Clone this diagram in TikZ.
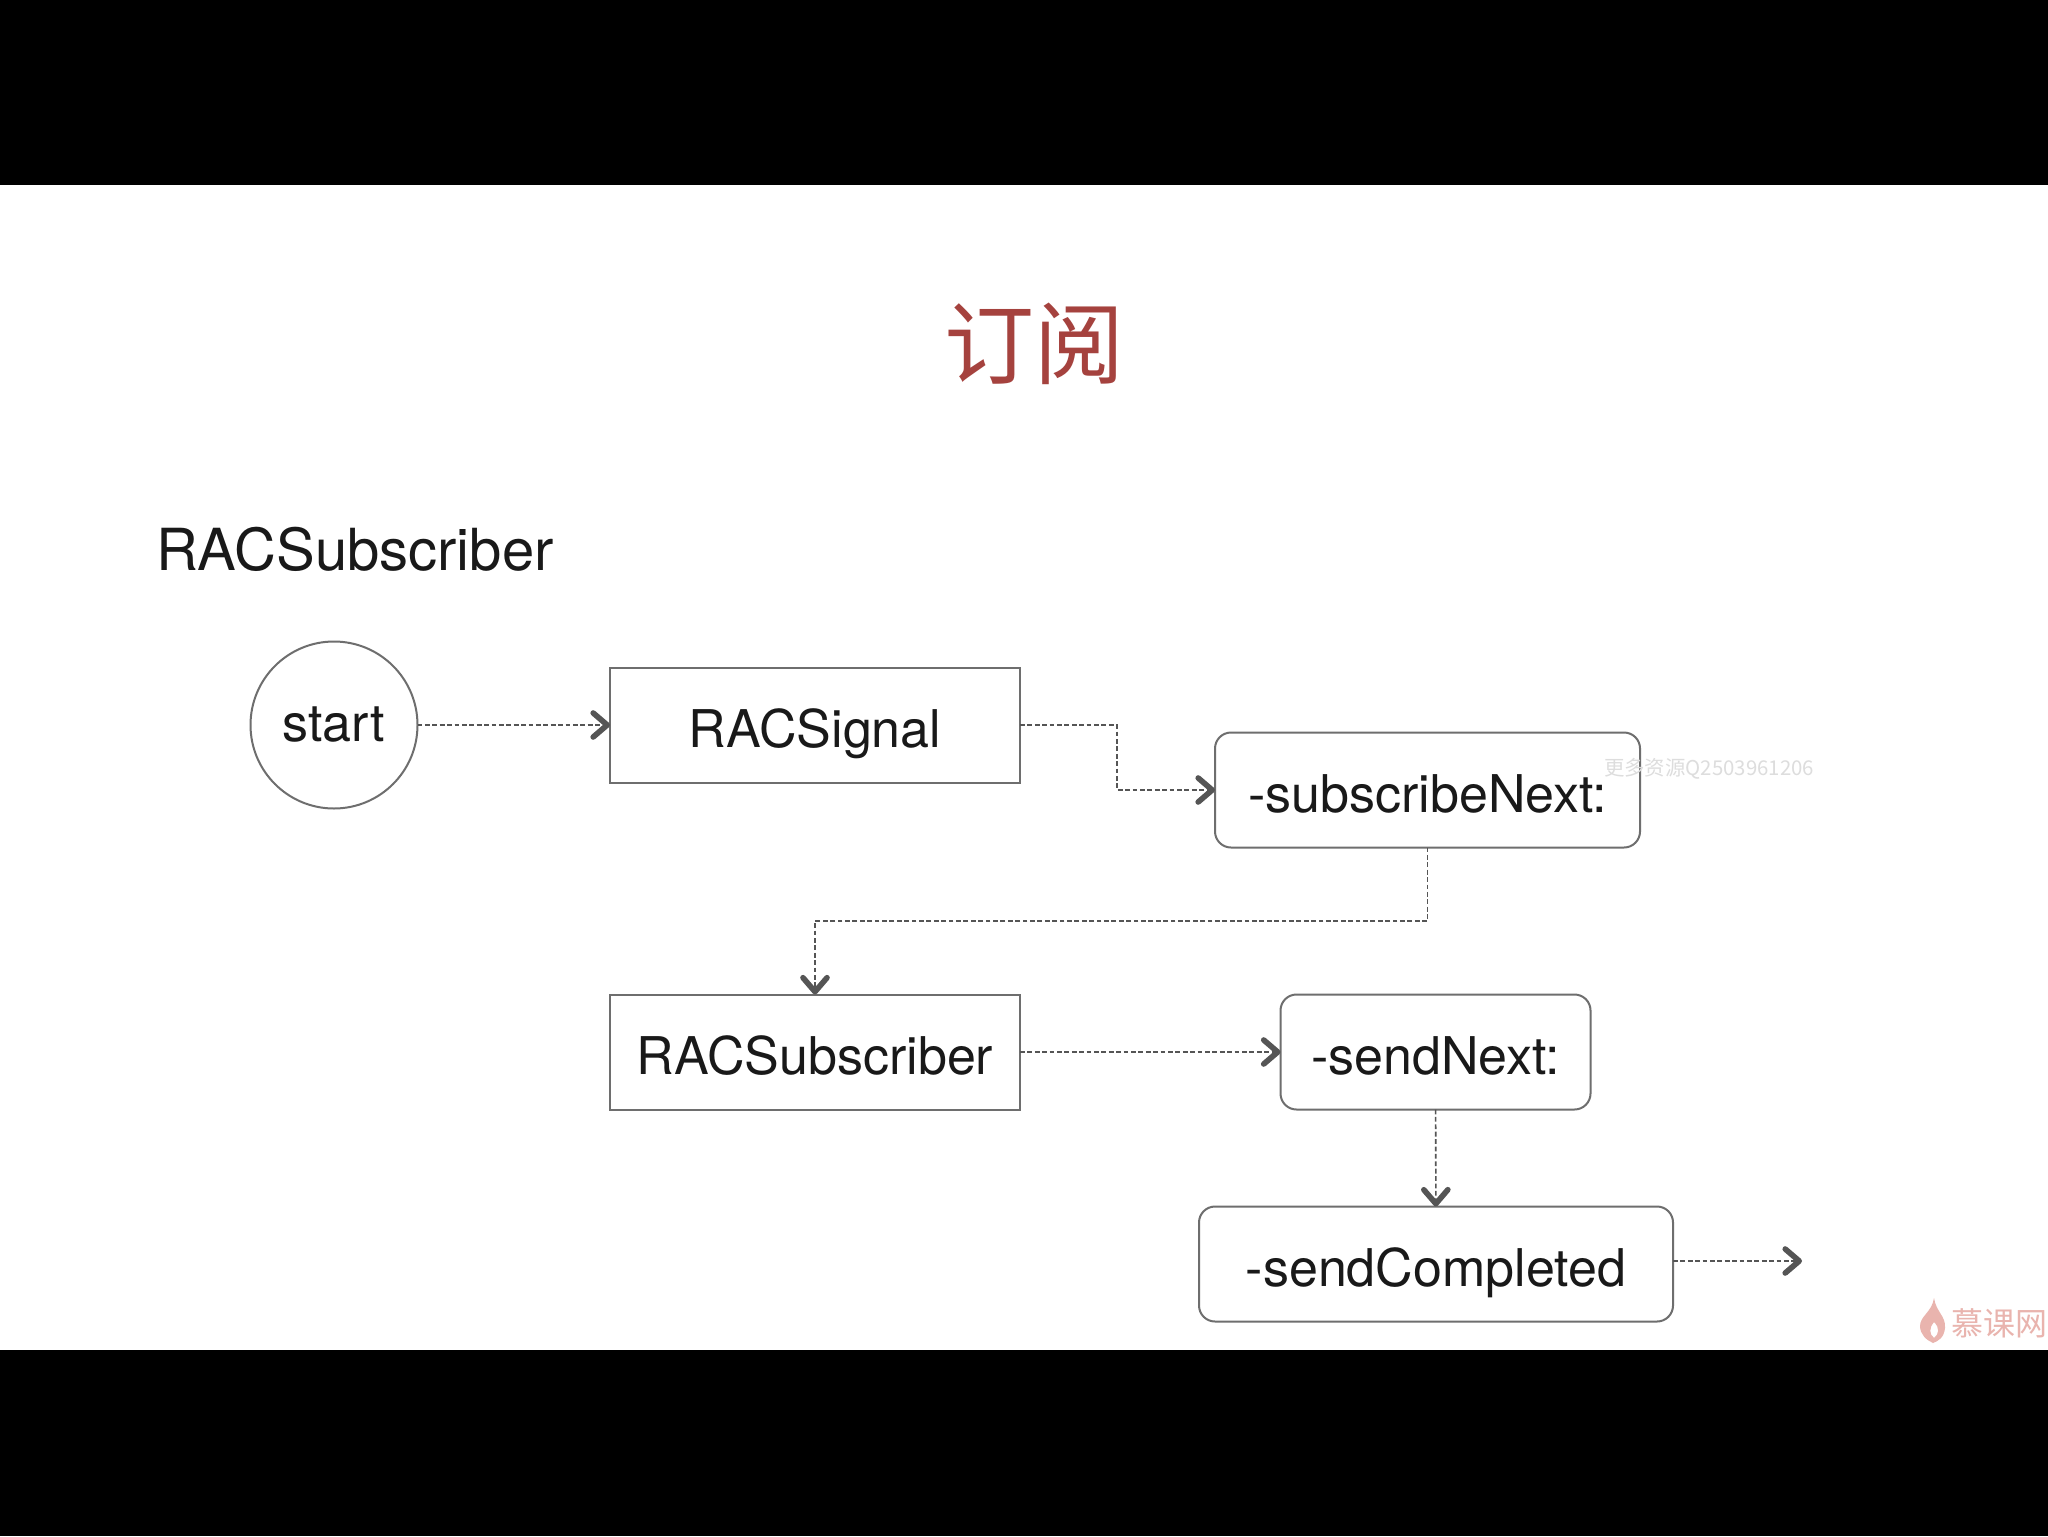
\documentclass[tikz,border=0pt]{standalone}
\usepackage{fontspec}
\setmainfont{TeX Gyre Heros}
\newfontfamily\cjk{Noto Sans CJK SC}
\usetikzlibrary{arrows.meta}
\definecolor{linegray}{HTML}{6E6E6E}
\definecolor{flowgray}{HTML}{555555}
\definecolor{titlered}{HTML}{A5423E}
\definecolor{markred}{HTML}{E9B4AE}
\definecolor{markgray}{HTML}{DDDDDD}

\begin{document}
\begin{tikzpicture}
  [x=0.5pt,y=-0.5pt,
    every node/.style={inner sep=0pt,outer sep=0pt,text=black!90,font=\fontsize{26}{30}\selectfont},
    classbox/.style={draw=linegray,line width=1pt,minimum width=205pt,minimum height=57.5pt,text height=22.6pt,text depth=0pt},
    methodbox/.style={draw=linegray,line width=1pt,rounded corners=8pt,minimum height=57.5pt,text height=22.6pt,text depth=0pt},
    flow/.style={draw=flowgray,line width=0.8pt,dash pattern=on 2.4pt off 1.3pt,
      -{Straight Barb[length=7pt,width=12pt,line width=2.8pt,round]}},
  ]
  \useasboundingbox (0,0) rectangle (2048,1536);
  \fill[white] (0,0) rectangle (2048,1536);
  \fill[black] (0,0) rectangle (2048,185);
  \fill[black] (0,1350) rectangle (2048,1536);

  \node[text=titlered,font=\cjk\fontsize{45}{48}\selectfont] (title) at (1034,344) {订阅};
  \node[anchor=west,font=\fontsize{29}{33}\selectfont] (heading) at (156,549) {RACSubscriber};

  \node[draw=linegray,line width=1pt,circle,minimum size=83.5pt] (start) at (334,725) {start};
  \node[classbox] (racsignal) at (815,725) {RACSignal};
  \node[methodbox,minimum width=212.5pt] (subnext) at (1427.5,790) {-subscribeNext:};
  \node[classbox] (racsub) at (815,1052) {RACSubscriber};
  \node[methodbox,minimum width=155pt] (sendnext) at (1435.5,1052) {-sendNext:};
  \node[methodbox,minimum width=237pt] (sendcomp) at (1436,1264) {-sendCompleted};

  \coordinate (kneea) at (1117,757);
  \coordinate (kneeb) at (1000,921);
  \coordinate (out) at (1802,1261);

  \draw[flow] (start) -- (racsignal);
  \draw[flow] (racsignal.east) -| (kneea) |- (subnext.west);
  \draw[flow] (subnext.south) |- (kneeb) -| (racsub.north);
  \draw[flow] (racsub) -- (sendnext);
  \draw[flow] (sendnext) -- (sendcomp);
  \draw[flow] (sendcomp.east |- out) -- (out);

  % watermarks
  \node[anchor=west,text=markgray,font=\cjk\fontsize{10.2}{12}\selectfont] (qq) at (1604,769) {更多资源Q2503961206};
  \begin{scope}
    \clip (1900,1290) rectangle (2048,1350);
    \fill[markred,even odd rule] (1934,1298) .. controls (1936,1312) and (1946,1316) .. (1945,1328)
      .. controls (1944,1338) and (1938,1341) .. (1933,1343)
      .. controls (1926,1340) and (1920,1334) .. (1920,1326)
      .. controls (1920,1316) and (1932,1312) .. (1934,1298) -- cycle
      (1934,1322) .. controls (1940,1328) and (1939,1334) .. (1934,1338)
      .. controls (1929,1334) and (1929,1328) .. (1934,1322) -- cycle;
    \node[anchor=west,text=markred,font=\cjk\fontsize{16}{18}\selectfont] (imooc) at (1951,1323) {慕课网};
  \end{scope}
\end{tikzpicture}
\end{document}
